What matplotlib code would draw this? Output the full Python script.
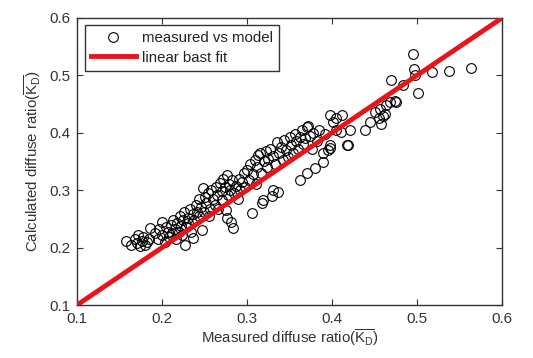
import matplotlib
matplotlib.use("Agg")
import matplotlib.pyplot as plt

plt.rcParams['font.family'] = ['Liberation Sans', 'DejaVu Sans']
plt.rcParams['mathtext.fontset'] = 'custom'
plt.rcParams['mathtext.rm'] = 'Liberation Sans'

# measured vs model diffuse ratio
measured = [
    0.158, 0.163, 0.168, 0.170, 0.172, 0.174, 0.176, 0.178, 0.180, 0.182, 0.185, 0.186,
    0.192, 0.195, 0.197, 0.200, 0.200, 0.203, 0.205, 0.207, 0.208, 0.210, 0.212, 0.213,
    0.215, 0.216, 0.218, 0.220, 0.221, 0.222, 0.224, 0.225, 0.226, 0.227, 0.228, 0.230,
    0.231, 0.233, 0.234, 0.236, 0.237, 0.238, 0.240, 0.241, 0.243, 0.244, 0.246, 0.247,
    0.248, 0.249, 0.250,
    0.252, 0.254, 0.255, 0.257, 0.258, 0.260, 0.262, 0.263, 0.265, 0.266, 0.268, 0.270,
    0.271, 0.272, 0.274, 0.275, 0.276, 0.277, 0.278, 0.279, 0.280, 0.281, 0.282, 0.284,
    0.285, 0.287, 0.289, 0.290, 0.292, 0.294, 0.296, 0.298,
    0.300, 0.302, 0.304, 0.306, 0.307, 0.309, 0.310, 0.312, 0.313, 0.315, 0.316, 0.318,
    0.319, 0.320, 0.322, 0.324, 0.325, 0.327, 0.329, 0.330, 0.331, 0.333, 0.335, 0.336,
    0.338, 0.340, 0.342, 0.344, 0.346, 0.348,
    0.350, 0.352, 0.354, 0.356, 0.358, 0.360, 0.362, 0.362, 0.365, 0.366, 0.368, 0.370,
    0.370, 0.372, 0.374, 0.376, 0.378, 0.380, 0.382, 0.385, 0.389, 0.389, 0.392, 0.395,
    0.398, 0.398, 0.398,
    0.401, 0.405, 0.410, 0.412, 0.417, 0.419, 0.421, 0.405, 0.439, 0.445, 0.450, 0.455,
    0.456, 0.458, 0.460, 0.462, 0.464, 0.468, 0.469, 0.474, 0.475, 0.483, 0.495, 0.496,
    0.497, 0.501, 0.518, 0.538, 0.563,
]
calculated = [
    0.212, 0.205, 0.215, 0.208, 0.222, 0.203, 0.212, 0.218, 0.205, 0.210, 0.215, 0.234,
    0.225, 0.215, 0.232, 0.245, 0.222, 0.210, 0.235, 0.228, 0.218, 0.240, 0.225, 0.248,
    0.232, 0.215, 0.242, 0.228, 0.255, 0.238, 0.222, 0.248, 0.262, 0.205, 0.235, 0.252,
    0.243, 0.268, 0.228, 0.258, 0.217, 0.248, 0.275, 0.262, 0.285, 0.255, 0.270, 0.230,
    0.304, 0.262, 0.288,
    0.278, 0.295, 0.255, 0.268, 0.300, 0.285, 0.275, 0.305, 0.292, 0.268, 0.312, 0.298,
    0.283, 0.320, 0.305, 0.265, 0.326, 0.252, 0.292, 0.310, 0.300, 0.245, 0.318, 0.234,
    0.295, 0.308, 0.285, 0.320, 0.300, 0.315, 0.330, 0.305,
    0.335, 0.318, 0.345, 0.260, 0.328, 0.352, 0.310, 0.340, 0.362, 0.365, 0.330, 0.278,
    0.283, 0.350, 0.368, 0.340, 0.355, 0.372, 0.290, 0.300, 0.360, 0.345, 0.384, 0.297,
    0.365, 0.375, 0.352, 0.388, 0.370, 0.358,
    0.392, 0.378, 0.365, 0.398, 0.385, 0.372, 0.393, 0.318, 0.405, 0.380, 0.390, 0.330,
    0.410, 0.412, 0.395, 0.372, 0.400, 0.339, 0.385, 0.405, 0.349, 0.365, 0.398, 0.370,
    0.373, 0.379, 0.431,
    0.419, 0.405, 0.401, 0.431, 0.379, 0.379, 0.405, 0.425, 0.405, 0.418, 0.436, 0.425,
    0.441, 0.415, 0.430, 0.432, 0.448, 0.453, 0.491, 0.455, 0.454, 0.484, 0.537, 0.511,
    0.500, 0.469, 0.505, 0.508, 0.513,
]

fit_x = [0.1, 0.6]
fit_y = [0.1, 0.6]

ticks = [0.1, 0.2, 0.3, 0.4, 0.5, 0.6]

fig = plt.figure(figsize=(5.33, 3.58), dpi=100)
ax = fig.add_axes([0.1445, 0.148, 0.7975, 0.802])

ax.plot(measured, calculated, 'o', mfc='none', mec='black', ms=7, mew=0.8,
        label='measured vs model', zorder=2)
ax.plot(fit_x, fit_y, '-', color='#e8141a', lw=3.5, label='linear bast fit', zorder=3)

ax.set_xlim(0.1, 0.6)
ax.set_ylim(0.1, 0.6)
ax.set_xticks(ticks)
ax.set_yticks(ticks)
ax.set_xticklabels([f'{t:.1f}' for t in ticks])
ax.set_yticklabels([f'{t:.1f}' for t in ticks])
ax.tick_params(direction='in', top=True, right=True, length=4, width=0.8,
               labelsize=11, colors='#333333', pad=5)
for sp in ax.spines.values():
    sp.set_color('#333333')
    sp.set_linewidth(1.0)

ax.set_xlabel(r'Measured diffuse ratio($\overline{\mathrm{K}_\mathrm{D}}$)',
              fontsize=10.8, color='#333333', labelpad=1)
ax.set_ylabel(r'Calculated diffuse ratio($\overline{\mathrm{K}_\mathrm{D}}$)',
              fontsize=10.8, color='#333333', labelpad=4)

leg = ax.legend(loc='upper left', fontsize=10.8, frameon=True, fancybox=False,
                edgecolor='#333333', framealpha=1, borderaxespad=0.5,
                handlelength=3.0, borderpad=0.4, labelspacing=0.35,
                handletextpad=0.4)
leg.get_frame().set_linewidth(1.0)
for t in leg.get_texts():
    t.set_color('#222222')

fig.savefig('out.png', dpi=100)
plt.close(fig)
